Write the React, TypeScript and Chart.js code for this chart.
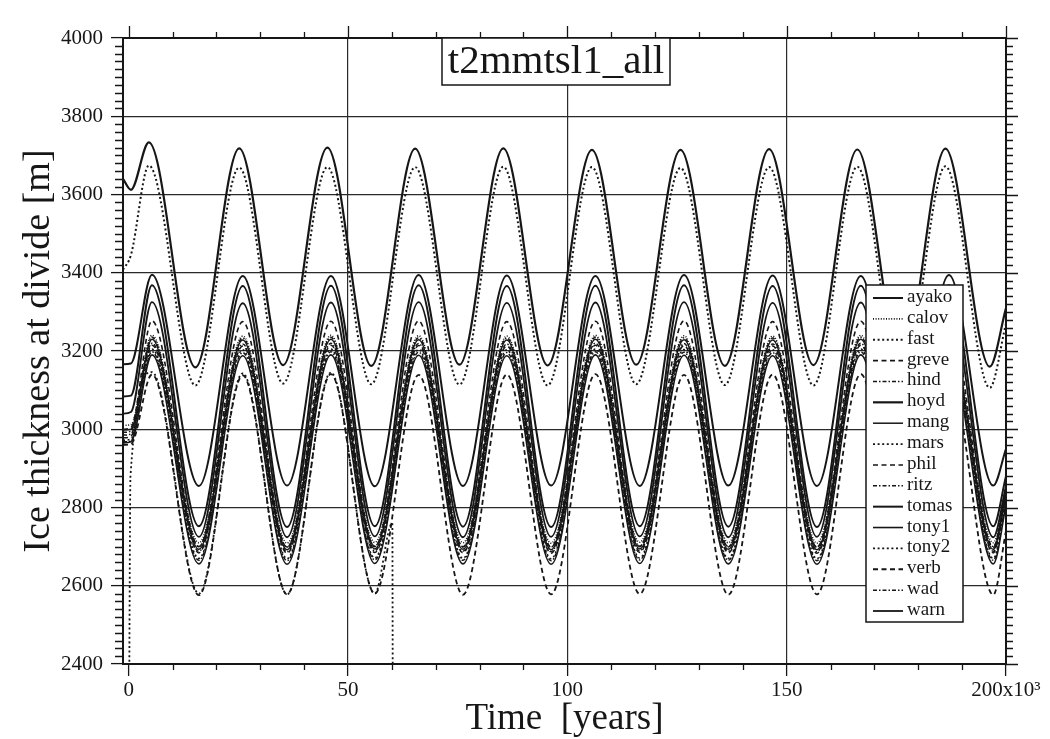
import React, { useEffect, useRef } from "react";
import { Chart, registerables } from "chart.js";

Chart.register(...registerables);

// ---------- data (time in 10^3 years, thickness in m) ----------
const TITLE = "t2mmtsl1_all";
const X_TITLE = "Time  [years]";
const Y_TITLE = "Ice thickness at divide [m]";
const X_TICKS = [0, 50, 100, 150, 200];
const Y_TICKS = [2400, 2600, 2800, 3000, 3200, 3400, 3600, 3800, 4000];
const X_MINOR = [0, 10, 20, 30, 40, 50, 60, 70, 80, 90, 100, 110, 120, 130, 140, 150, 160, 170, 180, 190, 200];
const Y_MINOR_STEP = 20;

const T_UP = [-1.3, 0.5, 4.6, 15.2, 25.2, 35.2, 45.3, 55.3, 65.3, 75.4, 85.4, 95.5, 105.6, 115.7, 125.8, 135.9, 146.0, 156.1, 166.1, 176.2, 186.2, 196.3, 200];
const T_LOW = [-1.3, 0.5, 5.3, 16.0, 26.0, 36.1, 46.1, 56.1, 66.1, 76.2, 86.2, 96.3, 106.4, 116.5, 126.6, 136.7, 146.8, 156.9, 166.9, 177.0, 187.0, 197.1, 200];
const T_MARS = [0.1, 0.4, 5.3, 16.0, 26.0, 36.1, 46.1, 56.1, 60.1, 60.2];

const HOYD = [3640, 3612, 3733, 3158, 3718, 3164, 3720, 3162, 3717, 3165, 3718, 3163, 3714, 3165, 3714, 3162, 3716, 3164, 3715, 3162, 3717, 3160, 3310];
const FAST = [3408, 3445, 3674, 3112, 3669, 3117, 3670, 3115, 3670, 3114, 3671, 3112, 3670, 3115, 3668, 3113, 3670, 3112, 3671, 3110, 3672, 3106, 3270];
const AYAKO = [3166, 3168, 3395, 2855, 3392, 2856, 3392, 2854, 3394, 2855, 3393, 2856, 3392, 2855, 3394, 2856, 3393, 2855, 3392, 2856, 3394, 2856, 2950];
const TOMAS = [3084, 3086, 3368, 2752, 3366, 2750, 3367, 2752, 3368, 2751, 3366, 2750, 3367, 2752, 3368, 2751, 3366, 2750, 3367, 2752, 3368, 2752, 2880];
const WARN = [3040, 3044, 3325, 2725, 3322, 2724, 3324, 2726, 3325, 2724, 3323, 2725, 3324, 2726, 3325, 2724, 3323, 2725, 3324, 2726, 3325, 2724, 2855];
const GREVE = [3000, 3004, 3277, 2700, 3275, 2698, 3276, 2700, 3277, 2699, 3275, 2698, 3276, 2700, 3277, 2699, 3275, 2698, 3276, 2700, 3277, 2698, 2840];
const CALOV = [3010, 3012, 3240, 2710, 3238, 2709, 3240, 2711, 3239, 2710, 3238, 2709, 3240, 2711, 3239, 2710, 3238, 2709, 3240, 2711, 3239, 2710, 2850];
const HIND = [2992, 2995, 3235, 2700, 3233, 2699, 3235, 2701, 3234, 2700, 3233, 2699, 3235, 2701, 3234, 2700, 3233, 2699, 3235, 2701, 3234, 2700, 2845];
const MANG = [2998, 3000, 3230, 2693, 3228, 2692, 3230, 2694, 3229, 2693, 3228, 2692, 3230, 2694, 3229, 2693, 3228, 2692, 3230, 2694, 3229, 2693, 2840];
const RITZ = [2985, 2988, 3220, 2688, 3218, 2687, 3220, 2689, 3219, 2688, 3218, 2687, 3220, 2689, 3219, 2688, 3218, 2687, 3220, 2689, 3219, 2688, 2835];
const PHIL = [2978, 2982, 3215, 2684, 3213, 2683, 3215, 2685, 3214, 2684, 3213, 2683, 3215, 2685, 3214, 2684, 3213, 2683, 3215, 2685, 3214, 2684, 2830];
const TONY1 = [2965, 2968, 3190, 2656, 3188, 2655, 3190, 2657, 3189, 2656, 3188, 2655, 3190, 2657, 3189, 2656, 3188, 2655, 3190, 2657, 3189, 2656, 2805];
const TONY2 = [2972, 2975, 3205, 2670, 3203, 2669, 3205, 2671, 3204, 2670, 3203, 2669, 3205, 2671, 3204, 2670, 3203, 2669, 3205, 2671, 3204, 2670, 2820];
const WAD = [2968, 2970, 3198, 2665, 3196, 2664, 3198, 2666, 3197, 2665, 3196, 2664, 3198, 2666, 3197, 2665, 3196, 2664, 3198, 2666, 3197, 2665, 2815];
const VERB = [2960, 2962, 3140, 2576, 3138, 2578, 3141, 2580, 3139, 2577, 3140, 2578, 3141, 2579, 3139, 2577, 3140, 2578, 3141, 2580, 3140, 2577, 2740];
const MARS = [2300, 2880, 3146, 2580, 3143, 2578, 3145, 2580, 2760, 2300];

const SOLID: number[] = [];
const FINE_DOT = [1, 1.6];
const DOT = [2, 2.6];
const DASH = [5, 3.5];
const DASH_DOT = [4, 2, 1.5, 2];

type S = { name: string; t: number[]; v: number[]; dash: number[]; w: number };
const SERIES: S[] = [
  { name: "ayako", t: T_LOW, v: AYAKO, dash: SOLID, w: 2 },
  { name: "calov", t: T_LOW, v: CALOV, dash: FINE_DOT, w: 1.6 },
  { name: "fast", t: T_UP, v: FAST, dash: DOT, w: 2 },
  { name: "greve", t: T_LOW, v: GREVE, dash: DASH, w: 1.6 },
  { name: "hind", t: T_LOW, v: HIND, dash: DASH_DOT, w: 1.5 },
  { name: "hoyd", t: T_UP, v: HOYD, dash: SOLID, w: 2.2 },
  { name: "mang", t: T_LOW, v: MANG, dash: SOLID, w: 1.5 },
  { name: "mars", t: T_MARS, v: MARS, dash: DOT, w: 1.8 },
  { name: "phil", t: T_LOW, v: PHIL, dash: DASH, w: 1.5 },
  { name: "ritz", t: T_LOW, v: RITZ, dash: DASH_DOT, w: 1.5 },
  { name: "tomas", t: T_LOW, v: TOMAS, dash: SOLID, w: 2 },
  { name: "tony1", t: T_LOW, v: TONY1, dash: SOLID, w: 1.6 },
  { name: "tony2", t: T_LOW, v: TONY2, dash: DOT, w: 1.6 },
  { name: "verb", t: T_LOW, v: VERB, dash: DASH, w: 1.8 },
  { name: "wad", t: T_LOW, v: WAD, dash: DASH_DOT, w: 1.5 },
  { name: "warn", t: T_LOW, v: WARN, dash: SOLID, w: 1.8 },
];

const INK = "#161616";
const SERIF = "'Liberation Serif', 'DejaVu Serif', serif";

const decorPlugin = {
  id: "decor",
  afterDatasetsDraw(chart: any) {
    const { ctx, chartArea: a, scales } = chart;
    const x = scales.x;
    const y = scales.y;
    ctx.save();
    ctx.setLineDash([]);
    ctx.strokeStyle = INK;
    // frame
    ctx.lineWidth = 2;
    ctx.strokeRect(a.left, a.top, a.right - a.left, a.bottom - a.top);
    // minor / major ticks (outward)
    ctx.lineWidth = 1.3;
    ctx.beginPath();
    for (let v = Y_TICKS[0]; v <= Y_TICKS[Y_TICKS.length - 1]; v += Y_MINOR_STEP) {
      const py = Math.round(y.getPixelForValue(v)) + 0.5;
      const major = v % 200 === 0;
      if (!major) {
        ctx.moveTo(a.left - 8, py);
        ctx.lineTo(a.left, py);
      }
      ctx.moveTo(a.right, py);
      ctx.lineTo(a.right + (major ? 12 : 7), py);
    }
    for (const v of X_MINOR) {
      const px = Math.round(x.getPixelForValue(v)) + 0.5;
      const major = v % 50 === 0;
      if (!major) {
        ctx.moveTo(px, a.bottom);
        ctx.lineTo(px, a.bottom + 6);
      }
      ctx.moveTo(px, a.top);
      ctx.lineTo(px, a.top - (major ? 12 : 6));
    }
    ctx.stroke();

    // title box
    const tx0 = 442, tx1 = 670, ty0 = a.top, ty1 = a.top + 47;
    ctx.fillStyle = "#fff";
    ctx.fillRect(tx0, ty0, tx1 - tx0, ty1 - ty0);
    ctx.lineWidth = 1.5;
    ctx.strokeRect(tx0, ty0, tx1 - tx0, ty1 - ty0);
    ctx.fillStyle = INK;
    ctx.font = `41px ${SERIF}`;
    ctx.textAlign = "center";
    ctx.textBaseline = "middle";
    ctx.fillText(TITLE, (tx0 + tx1) / 2, (ty0 + ty1) / 2 + 1);

    // legend box
    const lx0 = 866, lx1 = 963, ly0 = 285, ly1 = 622;
    ctx.fillStyle = "#fff";
    ctx.fillRect(lx0, ly0, lx1 - lx0, ly1 - ly0);
    ctx.lineWidth = 1.5;
    ctx.strokeRect(lx0, ly0, lx1 - lx0, ly1 - ly0);
    const step = (ly1 - ly0 - 24) / (SERIES.length - 1);
    ctx.font = `19px ${SERIF}`;
    ctx.textAlign = "left";
    ctx.textBaseline = "middle";
    chart.data.datasets.forEach((ds: any, i: number) => {
      const cy = ly0 + 12 + i * step;
      ctx.save();
      ctx.strokeStyle = INK;
      ctx.lineWidth = ds.borderWidth;
      ctx.setLineDash(ds.borderDash || []);
      ctx.beginPath();
      ctx.moveTo(873, cy + 1);
      ctx.lineTo(903, cy + 1);
      ctx.stroke();
      ctx.restore();
      ctx.fillStyle = INK;
      ctx.fillText(ds.label, 907, cy);
    });
    ctx.restore();
  },
};

export default function App() {
  const ref = useRef<HTMLCanvasElement | null>(null);
  useEffect(() => {
    if (!ref.current) return;
    const datasets = SERIES.map((s) => ({
      label: s.name,
      data: s.t.map((t, i) => ({ x: t, y: s.v[i] })),
      borderColor: INK,
      backgroundColor: INK,
      borderWidth: s.w,
      borderDash: s.dash,
      pointRadius: 0,
      fill: false,
      cubicInterpolationMode: "monotone" as const,
    }));
    const chart = new Chart(ref.current, {
      type: "line",
      data: { datasets },
      plugins: [decorPlugin],
      options: {
        animation: false,
        responsive: false,
        devicePixelRatio: 1,
        layout: { padding: { top: 38, right: 44, bottom: 0, left: 0 } },
        plugins: { legend: { display: false }, tooltip: { enabled: false }, title: { display: false } },
        scales: {
          x: {
            type: "linear",
            min: -1.3,
            max: 200,
            afterBuildTicks: (sc: any) => {
              sc.ticks = X_TICKS.map((v) => ({ value: v }));
            },
            afterFit: (sc: any) => {
              sc.height = 75;
            },
            grid: {
              color: (c: any) => (c.tick && (c.tick.value === 0 || c.tick.value === 200) ? "rgba(0,0,0,0)" : "#2a2a2a"),
              lineWidth: 1.2,
              tickLength: 12,
              tickColor: INK,
              tickWidth: 1.3,
            },
            border: { display: true, color: INK, width: 2 },
            ticks: {
              color: INK,
              font: { family: SERIF, size: 21 },
              padding: 2,
              maxRotation: 0,
              autoSkip: false,
              callback: (v: any) => (Number(v) === 200 ? "200x10\u00B3" : String(v)),
            },
            title: {
              display: true,
              text: X_TITLE,
              color: INK,
              font: { family: SERIF, size: 37 },
              padding: { top: 0, bottom: -2 },
            },
          },
          y: {
            type: "linear",
            min: 2400,
            max: 4000,
            afterBuildTicks: (sc: any) => {
              sc.ticks = Y_TICKS.map((v) => ({ value: v }));
            },
            afterFit: (sc: any) => {
              sc.width = 123;
            },
            grid: {
              color: (c: any) => (c.tick && (c.tick.value === 2400 || c.tick.value === 4000) ? "rgba(0,0,0,0)" : "#2a2a2a"),
              lineWidth: 1.2,
              tickLength: 12,
              tickColor: INK,
              tickWidth: 1.3,
            },
            border: { display: true, color: INK, width: 2 },
            ticks: {
              color: INK,
              font: { family: SERIF, size: 21 },
              padding: 8,
              autoSkip: false,
              callback: (v: any) => String(v),
            },
            title: {
              display: true,
              text: Y_TITLE,
              color: INK,
              font: { family: SERIF, size: 38 },
              padding: { top: 16, bottom: 0 },
            },
          },
        },
      },
    });
    return () => chart.destroy();
  }, []);
  return (
    <div style={{ position: "fixed", left: 0, top: 0, width: 1050, height: 739, background: "#fff" }}>
      <canvas ref={ref} width={1050} height={739} style={{ display: "block" }} />
    </div>
  );
}
